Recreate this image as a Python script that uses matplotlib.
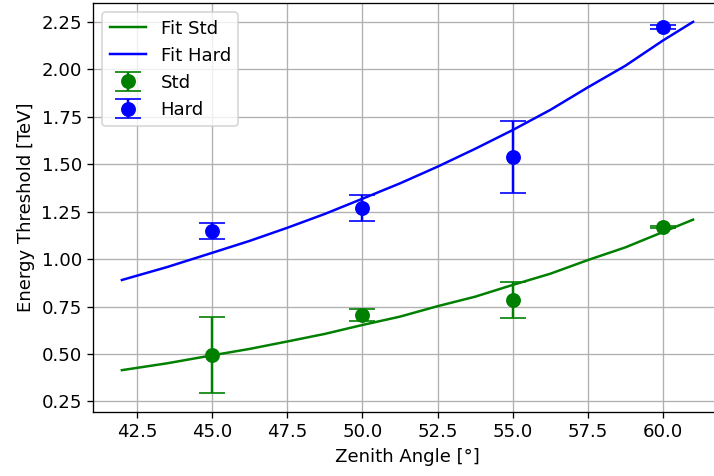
import matplotlib
matplotlib.use("Agg")
import matplotlib.pyplot as plt

plt.rcParams['font.size'] = 11

# Measured thresholds per zenith angle
angles = [45, 50, 55, 60]
std_thr = [0.494, 0.705, 0.785, 1.169]
std_err = [0.200, 0.031, 0.095, 0.004]
hard_thr = [1.148, 1.270, 1.540, 2.224]
hard_err = [0.042, 0.068, 0.190, 0.011]

# Fit curves
fit_angles = [42, 43.5, 45, 46.25, 47.5, 48.75, 50, 51.25, 52.5,
              53.75, 55, 56.25, 57.5, 58.75, 60, 61]
fit_std = [0.415, 0.451, 0.493, 0.527, 0.566, 0.606, 0.653, 0.697, 0.752,
           0.802, 0.864, 0.923, 0.995, 1.062, 1.143, 1.208]
fit_hard = [0.890, 0.958, 1.033, 1.096, 1.165, 1.238, 1.318, 1.399, 1.487,
            1.581, 1.680, 1.786, 1.905, 2.019, 2.152, 2.250]

fig = plt.figure(figsize=(6, 4), dpi=119)
ax = fig.add_axes([0.1307, 0.1351, 0.880, 0.858])

ax.errorbar(angles, std_thr, yerr=std_err, fmt='o', color='green',
            markersize=8, capsize=8, label="Std")
ax.errorbar(angles, hard_thr, yerr=hard_err, fmt='o', color='blue',
            markersize=8, capsize=8, label="Hard")
ax.plot(fit_angles, fit_std, color='green', label="Fit Std")
ax.plot(fit_angles, fit_hard, color='blue', label="Fit Hard")

ax.set_xlabel("Zenith Angle [°]")
ax.set_ylabel("Energy Threshold [TeV]")
ax.legend(loc="upper left")
ax.grid(True)

fig.savefig("out.png", dpi=119)
